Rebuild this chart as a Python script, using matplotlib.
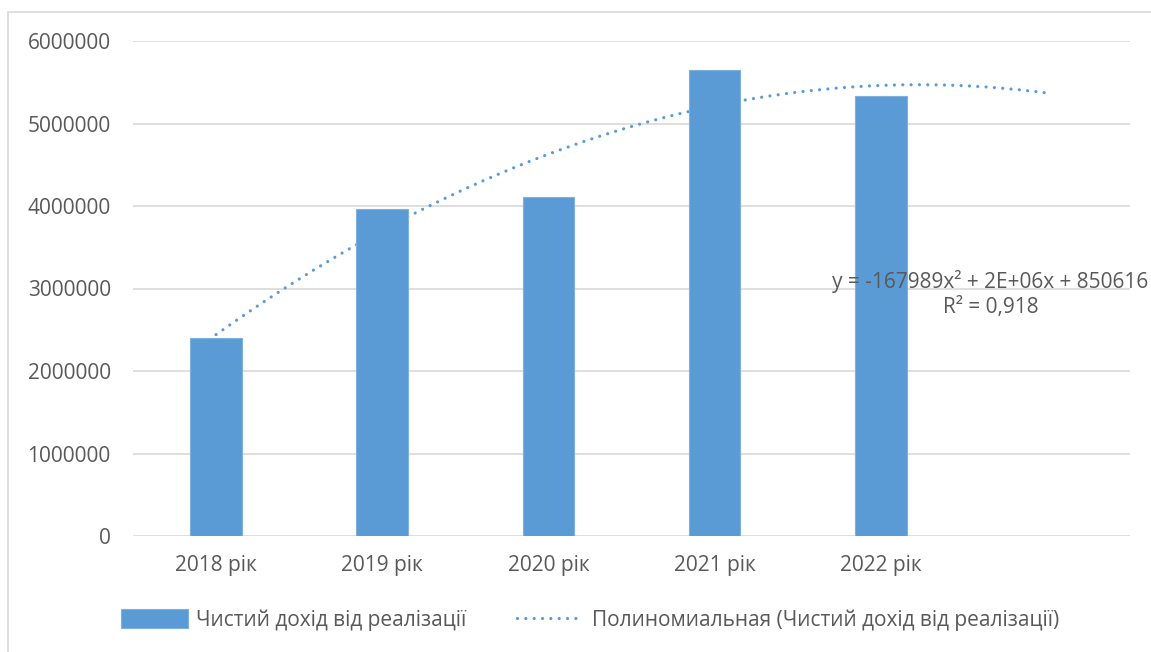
import numpy as np
import matplotlib.pyplot as plt
from matplotlib.patches import Rectangle
from matplotlib.ticker import FuncFormatter

plt.rcParams['font.family'] = ['Open Sans', 'DejaVu Sans']

# Net revenue from sales by year
years = ['2018 рік', '2019 рік', '2020 рік', '2021 рік', '2022 рік']
revenue = [2400000, 3960000, 4110000, 5650000, 5330000]
series_name = 'Чистий дохід від реалізації'
trend_name = 'Полиномиальная (Чистий дохід від реалізації)'
trend_label = 'y = -167989x² + 2E+06x + 850616\nR² = 0,918'

bar_color = '#5b9bd5'
text_color = '#595959'
grid_color = '#d9d9d9'
fs = 15

fig = plt.figure(figsize=(11.51, 6.52), dpi=100)
ax = fig.add_axes([133 / 1151, 116 / 652, 997 / 1151, 495 / 652])

x = np.arange(1, len(years) + 1)
bars = ax.bar(x, revenue, width=0.31, color=bar_color, edgecolor='#7fb0de',
              linewidth=0.8, label=series_name, zorder=2)

# 2nd order polynomial trend, forecast one period ahead (drawn behind bars)
coef = np.polyfit(x, revenue, 2)
xt = np.linspace(1, len(years) + 1, 200)
trend, = ax.plot(xt, np.polyval(coef, xt), color=bar_color, linewidth=2.3,
                 linestyle=(0, (0.01, 2.6)), dash_capstyle='round',
                 label=trend_name, zorder=1.5)

ax.text(5.66, 2930000, trend_label, ha='center', va='center',
        fontsize=fs, color=text_color, linespacing=1.25, zorder=4)

ax.set_xlim(0.5, len(years) + 1.5)
ax.set_ylim(0, 6000000)
ax.set_yticks(np.arange(0, 6000001, 1000000))
ax.yaxis.set_major_formatter(FuncFormatter(lambda v, p: f'{v:.0f}'))
ax.set_xticks(x)
ax.set_xticklabels(years)
ax.tick_params(length=0, labelsize=fs, labelcolor=text_color)
ax.tick_params(axis='x', pad=14)
ax.tick_params(axis='y', pad=16)
ax.yaxis.grid(True, color=grid_color, linewidth=1.2, zorder=0)
ax.set_axisbelow(True)
for s in ax.spines.values():
    s.set_visible(False)

leg = fig.legend([bars, trend], [series_name, trend_name], loc='center',
                 bbox_to_anchor=(590 / 1151, 32 / 652), ncol=2,
                 frameon=False, fontsize=fs, handlelength=3.2,
                 handleheight=1.0, columnspacing=2.4, handletextpad=0.4)
for t in leg.get_texts():
    t.set_color(text_color)

# chart area border
fig.patches.append(Rectangle((8 / 1151, -0.1), 1.2, (640 / 652) + 0.1,
                             transform=fig.transFigure, fill=False,
                             edgecolor=grid_color, linewidth=1.2))

fig.savefig('out.png', dpi=100)
